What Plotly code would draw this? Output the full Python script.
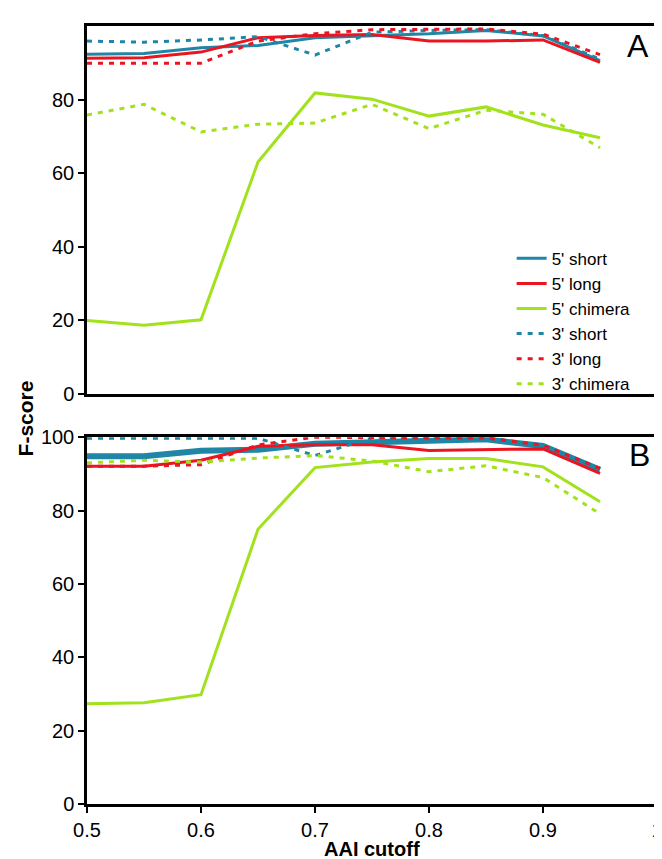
import plotly.graph_objects as go

x_vals = [0.5, 0.55, 0.6, 0.65, 0.7, 0.75, 0.8, 0.85, 0.9, 0.95]
names = ["5' short", "5' long", "5' chimera", "3' short", "3' long", "3' chimera"]

# Panel A
a_5short = [92.3, 92.5, 94.1, 94.7, 96.8, 97.4, 97.9, 98.8, 97.3, 90.6]
a_5long = [91.2, 91.4, 92.9, 96.8, 97.4, 97.7, 95.9, 95.9, 96.2, 90.1]
a_5chim = [19.9, 18.6, 20.1, 63.0, 81.8, 80.1, 75.5, 78.0, 73.1, 69.6]
a_3short = [95.9, 95.6, 96.2, 97.1, 92.1, 98.3, 98.8, 99.0, 97.4, 91.0]
a_3long = [89.9, 89.9, 89.9, 95.9, 97.9, 99.0, 99.2, 99.2, 97.8, 92.2]
a_3chim = [75.8, 78.7, 71.2, 73.3, 73.6, 78.7, 72.1, 77.1, 76.0, 66.9]

# Panel B
b_5short = [94.8, 94.8, 96.3, 96.6, 98.2, 98.6, 98.9, 99.4, 97.6, 91.1]
b_5long = [92.1, 92.1, 93.7, 97.5, 97.9, 97.9, 96.4, 96.5, 96.8, 90.1]
b_5chim = [27.3, 27.6, 29.8, 74.9, 91.7, 93.2, 94.2, 94.2, 91.9, 82.4]
b_3short = [99.7, 99.7, 99.7, 99.7, 95.0, 99.8, 99.8, 99.8, 97.8, 91.4]
b_3long = [92.1, 92.1, 92.5, 97.9, 100.0, 99.8, 99.8, 99.8, 97.8, 91.5]
b_3chim = [93.0, 93.7, 93.2, 94.3, 95.0, 93.5, 90.6, 92.2, 89.0, 79.1]

x_ticks = [0.5, 0.6, 0.7, 0.8, 0.9, 1]
x_ticklabels = ["0.5", "0.6", "0.7", "0.8", "0.9", "1"]
ya_ticks = [0, 20, 40, 60, 80]
yb_ticks = [0, 20, 40, 60, 80, 100]

TEAL = "#1f86a6"
RED = "#ea1520"
GREEN = "#a2e21c"
DOT = "5px,6px"

styles = [
    (TEAL, "solid"), (RED, "solid"), (GREEN, "solid"),
    (TEAL, DOT), (RED, DOT), (GREEN, DOT),
]

fig = go.Figure()

a_series = [a_5short, a_5long, a_5chim, a_3short, a_3long, a_3chim]
b_series = [b_5short, b_5long, b_5chim, b_3short, b_3long, b_3chim]

for i, (nm, ys) in enumerate(zip(names, a_series)):
    col, dash = styles[i]
    fig.add_trace(go.Scatter(
        x=x_vals, y=ys, mode="lines", name=nm, legendgroup=nm,
        line=dict(color=col, width=3, dash=dash),
        xaxis="x2", yaxis="y2", showlegend=True))

for i, (nm, ys) in enumerate(zip(names, b_series)):
    col, dash = styles[i]
    w = 6 if i == 0 else 3
    fig.add_trace(go.Scatter(
        x=x_vals, y=ys, mode="lines", name=nm, legendgroup=nm,
        line=dict(color=col, width=w, dash=dash),
        xaxis="x", yaxis="y", showlegend=False))

FONT = "Liberation Sans, Arial, sans-serif"
axis_common = dict(showline=True, linecolor="black", linewidth=2.5, mirror=True,
                   showgrid=False, zeroline=False, ticks="outside", ticklen=6,
                   tickwidth=2, tickcolor="black",
                   tickfont=dict(family=FONT, size=20, color="black"))

fig.update_layout(
    width=662, height=859,
    margin=dict(l=79, r=9, t=7, b=63),
    paper_bgcolor="white", plot_bgcolor="white",
    font=dict(family=FONT, color="black"),
    xaxis=dict(domain=[0, 1], anchor="y", range=[0.5, 1], tickvals=x_ticks,
               ticktext=x_ticklabels, **axis_common),
    yaxis=dict(domain=[0, 0.4715], anchor="x", range=[0, 100], tickvals=yb_ticks,
               **axis_common),
    xaxis2=dict(domain=[0, 1], anchor="y2", range=[0.5, 1], matches="x",
                showticklabels=False, showline=True, linecolor="black", linewidth=2.5,
                mirror=True, showgrid=False, zeroline=False, ticks=""),
    yaxis2=dict(domain=[0.5273, 1], anchor="x2", range=[0, 100], tickvals=ya_ticks,
                **axis_common),
    legend=dict(x=0.745, y=0.724, xanchor="left", yanchor="top",
                bgcolor="rgba(0,0,0,0)", font=dict(family=FONT, size=17, color="black"),
                tracegroupgap=0, itemwidth=30),
    showlegend=True,
    annotations=[
        dict(text="A", x=0.967, y=0.9747, xref="paper", yref="paper",
             xanchor="center", yanchor="middle",
             showarrow=False, font=dict(family=FONT, size=32, color="black")),
        dict(text="B", x=0.97, y=0.4487, xref="paper", yref="paper",
             xanchor="center", yanchor="middle",
             showarrow=False, font=dict(family=FONT, size=32, color="black")),
        dict(text="<b>F-score</b>", x=0, y=0.4956, xref="paper", yref="paper",
             xanchor="center", yanchor="middle",
             xshift=-62, textangle=-90, showarrow=False,
             font=dict(family=FONT, size=21, color="black")),
        dict(text="<b>AAI cutoff</b>", x=0.5, y=-0.0583, xref="paper", yref="paper",
             xanchor="center", yanchor="middle",
             showarrow=False, font=dict(family=FONT, size=20, color="black")),
    ],
)

fig.write_html("out.html")
